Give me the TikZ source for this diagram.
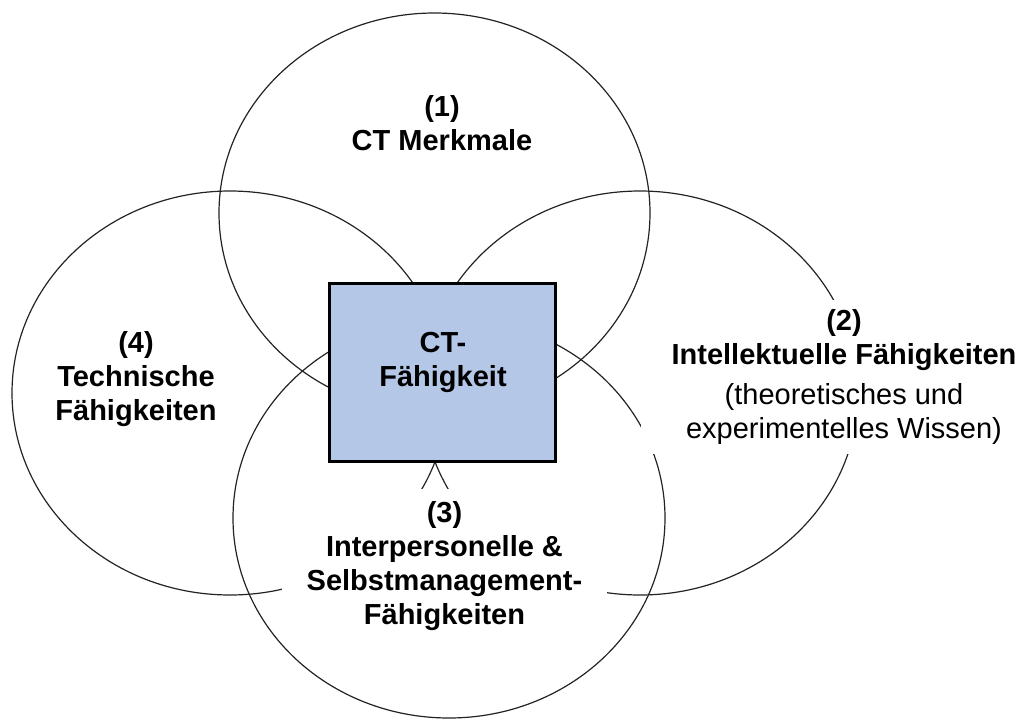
\documentclass[tikz,border=0pt]{standalone}
\usepackage{fontspec}
\setmainfont{Liberation Sans}
\definecolor{boxblue}{RGB}{180,199,231}
\definecolor{linegray}{RGB}{35,35,35}
\begin{document}
\begin{tikzpicture}[x=1pt,y=-1pt,
  circ/.style={draw=linegray, line width=1.2pt},
  lbl/.style={font=\fontsize{29}{34}\selectfont, align=center, inner sep=0pt},
  whitebg/.style={fill=white}]
\useasboundingbox (0,0) rectangle (1022,720);
% four overlapping ellipses
\draw[circ] (434.5,213) ellipse [x radius=215.5, y radius=200];
\draw[circ] (230,393) ellipse [x radius=218, y radius=202];
\draw[circ] (640,393) ellipse [x radius=218, y radius=202];
\draw[circ] (449,518) ellipse [x radius=216, y radius=200];
% labels
\node[lbl] (l1) at (442,123) {\textbf{(1)}\\\textbf{CT Merkmale}};
\node[lbl] (l4) at (136,379) {\textbf{(4)}\\\textbf{Technische}\\\textbf{Fähigkeiten}};
\node[lbl, whitebg, minimum width=406, minimum height=154] (l2) at (844,377)
  {\textbf{(2)}\\\textbf{Intellektuelle Fähigkeiten}\\[6pt](theoretisches und\\experimentelles Wissen)};
\node[lbl, whitebg, minimum width=325, minimum height=154] (l3) at (444.5,566)
  {\textbf{(3)}\\\textbf{Interpersonelle \&}\\\textbf{Selbstmanagement-}\\\textbf{Fähigkeiten}};
% central box
\node[draw=black, line width=3pt, fill=boxblue, minimum width=226, minimum height=178] (ct) at (442.5,372.5) {};
\node[lbl] (ctt) at (443,362) {\textbf{CT-}\\\textbf{Fähigkeit}};
\end{tikzpicture}
\end{document}
